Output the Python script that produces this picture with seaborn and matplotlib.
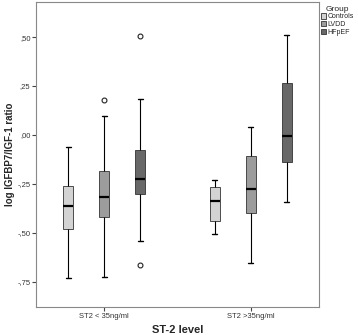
import numpy as np
import pandas as pd
import matplotlib
matplotlib.use("Agg")
import matplotlib.pyplot as plt
from matplotlib.patches import Patch
from matplotlib.ticker import FixedLocator, FixedFormatter
import seaborn as sns

levels = ["ST2 < 35ng/ml", "ST2 >35ng/ml"]
groups = ["Controls", "LVDD", "HFpEF"]
colors = ["#d3d3d3", "#9c9c9c", "#686868"]

low_controls = [-0.728, -0.60, -0.478, -0.42, -0.36, -0.30, -0.26, -0.15, -0.06]
low_lvdd = [-0.723, -0.55, -0.42, -0.37, -0.318, -0.25, -0.184, 0.098, 0.180]
low_hfpef = [-0.662, -0.539, -0.303, -0.26, -0.224, -0.15, -0.078, 0.184, 0.507]
high_controls = [-0.505, -0.47, -0.44, -0.39, -0.338, -0.30, -0.265, -0.25, -0.23]
high_lvdd = [-0.655, -0.50, -0.396, -0.33, -0.274, -0.19, -0.105, -0.03, 0.041]
high_hfpef = [-0.343, -0.25, -0.139, -0.07, -0.005, 0.13, 0.264, 0.40, 0.51]

yticks = [-0.75, -0.50, -0.25, 0.00, 0.25, 0.50]
yticklabels = ["-,75", "-,50", "-,25", ",00", ",25", ",50"]

series = {
    (levels[0], groups[0]): low_controls,
    (levels[0], groups[1]): low_lvdd,
    (levels[0], groups[2]): low_hfpef,
    (levels[1], groups[0]): high_controls,
    (levels[1], groups[1]): high_lvdd,
    (levels[1], groups[2]): high_hfpef,
}
rows = []
for (lv, g), vals in series.items():
    for v in vals:
        rows.append({"level": lv, "group": g, "value": v})
df = pd.DataFrame(rows)

sns.set_style("white")
plt.rcParams["font.family"] = ["Liberation Sans", "DejaVu Sans"]

fig = plt.figure(figsize=(3.58, 3.35), dpi=100)
ax = fig.add_axes([36 / 358, 28 / 335, 283 / 358, 305 / 335])

sns.boxplot(
    data=df, x="level", y="value", hue="group",
    order=levels, hue_order=groups, palette=colors,
    width=0.735, gap=0.72, linecolor="#222222", linewidth=0.8,
    fliersize=3.5, whis=1.5, legend=False, ax=ax,
    flierprops=dict(marker="o", markerfacecolor="white",
                    markeredgecolor="#222222", markeredgewidth=0.8),
    medianprops=dict(color="black", linewidth=1.6),
    whiskerprops=dict(color="black", linewidth=0.8),
    capprops=dict(color="black", linewidth=1.0),
    boxprops=dict(edgecolor="#333333", linewidth=0.6),
)

ax.set_xlim(-0.463, 1.463)
ax.set_ylim(-0.878, 0.679)
ax.yaxis.set_major_locator(FixedLocator(yticks))
ax.yaxis.set_major_formatter(FixedFormatter(yticklabels))
ax.tick_params(axis="both", which="major", length=3, width=0.8,
               color="#444444", labelsize=5.5, labelcolor="#333333", pad=1,
               left=True, bottom=True)
for s in ax.spines.values():
    s.set_color("#888888")
    s.set_linewidth(0.8)

ax.set_xlabel("ST-2 level", fontsize=8, fontweight="bold", labelpad=4)
ax.set_ylabel("log IGFBP7/IGF-1 ratio", fontsize=7, fontweight="bold", labelpad=2)

handles = [Patch(facecolor=c, edgecolor="#333333", linewidth=0.6, label=g)
           for c, g in zip(colors, groups)]
fig.legend(handles=handles, title="Group", loc="upper left",
           bbox_to_anchor=(320 / 358, 0.985), frameon=False,
           fontsize=5, title_fontsize=6, handlelength=0.8, handleheight=0.8,
           handletextpad=0.2, labelspacing=0.1, borderaxespad=0, borderpad=0.1)

fig.savefig("out.png", dpi=100)
